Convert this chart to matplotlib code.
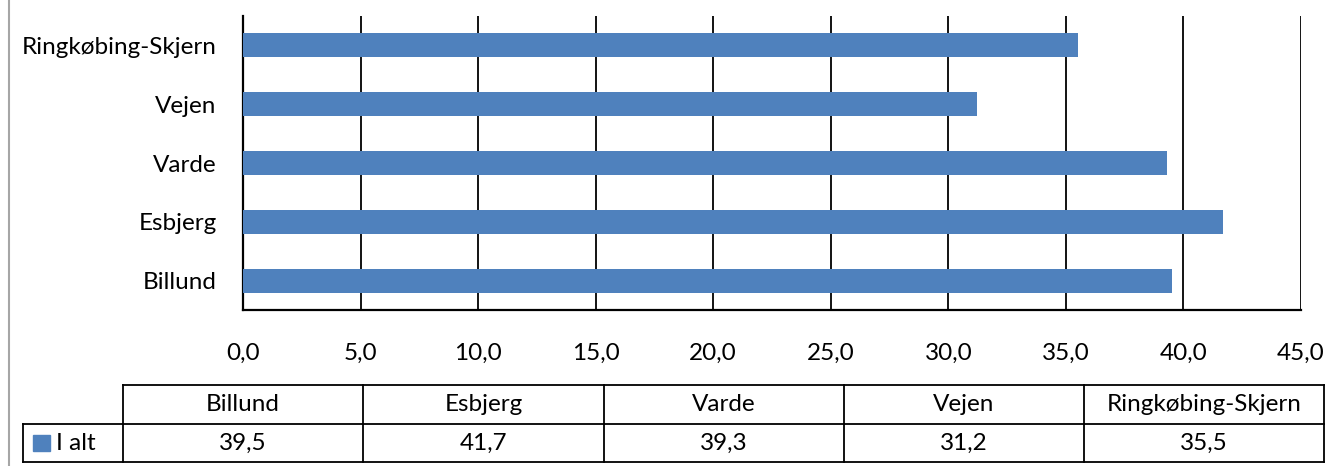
import matplotlib.pyplot as plt
from matplotlib.patches import Rectangle
from matplotlib.lines import Line2D

plt.rcParams['font.family'] = ['Lato', 'DejaVu Sans']

# Kommuner og værdier (I alt)
kommuner = ['Billund', 'Esbjerg', 'Varde', 'Vejen', 'Ringkøbing-Skjern']
i_alt = [39.5, 41.7, 39.3, 31.2, 35.5]
serie = 'I alt'
farve = '#4F81BD'
fs = 17.5

W, H = 1326, 466
fig = plt.figure(figsize=(W / 100, H / 100), dpi=100)

# Plotområde i pixels: venstre 243, højre 1301, top 16, bund 310
ax = fig.add_axes([243 / W, 1 - 310 / H, (1301 - 243) / W, (310 - 16) / H])
y = range(len(kommuner))
ax.barh(y, i_alt, height=0.41, color=farve, zorder=3)
ax.set_xlim(0, 45)
ax.set_ylim(-0.5, len(kommuner) - 0.5)
ax.set_yticks(list(y))
ax.set_yticklabels(kommuner, fontsize=fs)
ax.set_xticks(range(0, 46, 5))
ax.set_xticklabels([f'{v:.1f}'.replace('.', ',') for v in range(0, 46, 5)], fontsize=fs)
ax.tick_params(axis='y', length=0, pad=19)
ax.tick_params(axis='x', length=0, pad=24)
ax.grid(axis='x', color='black', linewidth=1.3, zorder=1)
for s in ['top', 'right']:
    ax.spines[s].set_visible(False)
ax.spines['left'].set_linewidth(1.6)
ax.spines['bottom'].set_linewidth(1.6)

# Grå kant til venstre
fig.add_artist(Line2D([9 / W, 9 / W], [0, 1], color='#a6a6a6', linewidth=1.5))

# Datatabel under diagrammet
def fx(px):
    return px / W

def fy(py):
    return 1 - py / H

cols = [123, 363, 604, 844, 1084, 1324]
top, mid, bot = 385, 424, 462
lw = 1.3
kw = dict(color='black', linewidth=lw)
fig.add_artist(Line2D([fx(cols[0]), fx(cols[-1])], [fy(top), fy(top)], **kw))
fig.add_artist(Line2D([fx(23), fx(cols[-1])], [fy(mid), fy(mid)], **kw))
fig.add_artist(Line2D([fx(23), fx(cols[-1])], [fy(bot), fy(bot)], **kw))
fig.add_artist(Line2D([fx(23), fx(23)], [fy(mid), fy(bot)], **kw))
for c in cols:
    fig.add_artist(Line2D([fx(c), fx(c)], [fy(top), fy(bot)], **kw))

for i, (navn, v) in enumerate(zip(kommuner, i_alt)):
    cx = (cols[i] + cols[i + 1]) / 2
    fig.text(fx(cx), fy((top + mid) / 2), navn, ha='center', va='center', fontsize=fs)
    fig.text(fx(cx), fy((mid + bot) / 2), f'{v:.1f}'.replace('.', ','),
             ha='center', va='center', fontsize=fs)

# Legendenøgle i tabellen
fig.add_artist(Rectangle((fx(33), fy(451)), 17 / W, 16 / H, color=farve,
                         transform=fig.transFigure))
fig.text(fx(56), fy((mid + bot) / 2), serie, ha='left', va='center', fontsize=fs)

fig.savefig('out.png', dpi=100)
